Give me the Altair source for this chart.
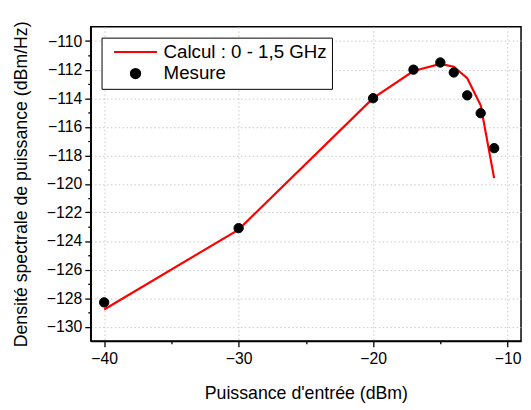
import altair as alt
import pandas as pd

# Calcul : 0 - 1,5 GHz (red line)
calc_x = [-40, -30, -20, -17, -15, -14, -13, -12, -11]
calc_y = [-128.8, -123.2, -114.0, -112.1, -111.6, -111.8, -112.6, -114.5, -119.6]

# Mesure (black dots)
meas_x = [-40, -30, -20, -17, -15, -14, -13, -12, -11]
meas_y = [-128.3, -123.1, -114.0, -112.0, -111.5, -112.2, -113.8, -115.05, -117.5]

series_names = ["Calcul : 0 - 1,5 GHz", "Mesure"]
series_colors = ["red", "black"]

x_major = [-40, -30, -20, -10]
x_minor = [-35, -25, -15]
y_major = list(range(-130, -109, 2))
y_minor = list(range(-129, -110, 2))

calc = pd.DataFrame({"x": calc_x, "y": calc_y})
meas = pd.DataFrame({"x": meas_x, "y": meas_y, "series": ["Mesure"] * len(meas_x)})

FONT = "Liberation Sans"
xs = alt.Scale(domain=[-41, -9], nice=False, zero=False)
ys = alt.Scale(domain=[-131, -109], nice=False, zero=False)

major_common = dict(
    grid=True, gridColor="#c8c8c8", gridDash=[1.5, 2.5], gridWidth=1,
    domainColor="black", domainWidth=1.5, tickColor="black", tickWidth=1.3,
    tickSize=6, labelFont=FONT, labelFontSize=16, labelColor="black",
    titleFont=FONT, titleFontSize=18, titleFontWeight="normal", titleColor="black",
)

line = alt.Chart(calc).mark_line(color="red", strokeWidth=2.2).encode(
    x=alt.X("x:Q", scale=xs, axis=alt.Axis(values=x_major, title="Puissance d'entrée (dBm)",
                                           labelPadding=4, titlePadding=18, **major_common)),
    y=alt.Y("y:Q", scale=ys, axis=alt.Axis(values=y_major, title="Densité spectrale de puissance (dBm/Hz)",
                                           labelPadding=3, titlePadding=16, **major_common)),
)

legend_def = dict(title=None, orient="none", legendX=11, legendY=11,
                  labelFont=FONT, labelFontSize=19, labelColor="black", labelLimit=400,
                  symbolSize=90, symbolStrokeWidth=2, symbolOffset=20,
                  labelOffset=19, padding=5, rowPadding=2,
                  strokeColor="black", fillColor="white", cornerRadius=0)

points = alt.Chart(meas).mark_point(filled=False, fill="black", size=90, strokeWidth=1, opacity=1).encode(
    x=alt.X("x:Q", scale=xs, axis=None),
    y=alt.Y("y:Q", scale=ys, axis=None),
    color=alt.Color("series:N", scale=alt.Scale(domain=series_names, range=series_colors),
                    legend=alt.Legend(**legend_def)),
    shape=alt.Shape("series:N", scale=alt.Scale(domain=series_names, range=["M-4.6,0H4.6", "circle"]),
                    legend=alt.Legend(**legend_def)),
)

minor_common = dict(grid=False, domain=False, labels=False, tickColor="black", tickWidth=1.3, tickSize=3)
minor = alt.Chart(meas).mark_point(opacity=0).encode(
    x=alt.X("x:Q", scale=xs, title=None, axis=alt.Axis(values=x_minor, orient="bottom", **minor_common)),
    y=alt.Y("y:Q", scale=ys, title=None, axis=alt.Axis(values=y_minor, orient="left", **minor_common)),
)

chart = alt.layer(line, points, minor).resolve_axis(x="independent", y="independent").properties(
    width=437, height=319, autosize="none",
    padding={"left": 84, "top": 16, "right": 2, "bottom": 64},
).configure_view(stroke="black", strokeWidth=1.5)

chart.save("out.html", embed_options={"renderer": "svg", "actions": False})
